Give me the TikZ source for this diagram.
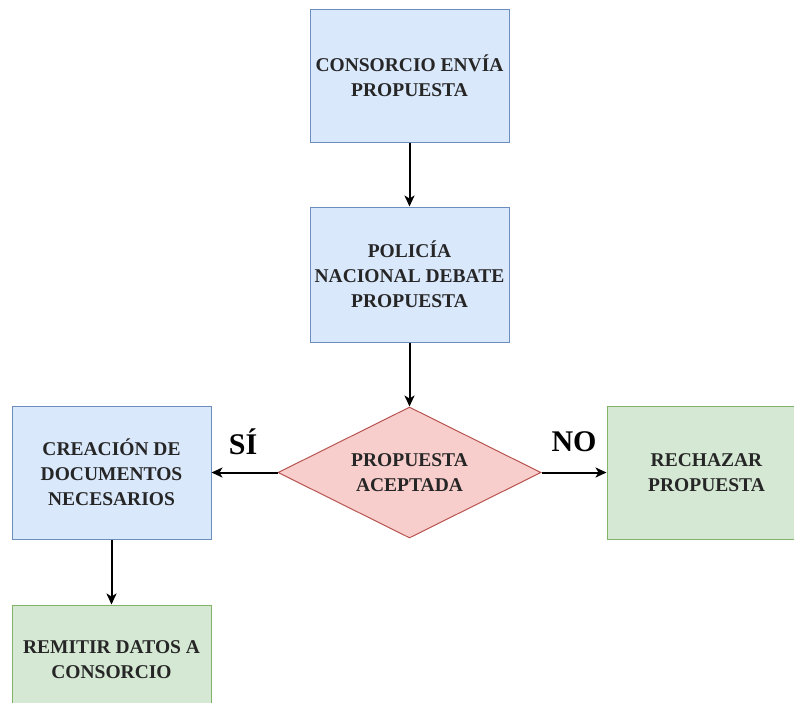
\documentclass[tikz,border=0pt]{standalone}
\usepackage{fontspec}
\setmainfont{Liberation Serif}
\usetikzlibrary{shapes.geometric,arrows.meta}

\definecolor{bluefill}{HTML}{DAE8FC}
\definecolor{blueline}{HTML}{6C8EBF}
\definecolor{greenfill}{HTML}{D5E8D4}
\definecolor{greenline}{HTML}{82B366}
\definecolor{redfill}{HTML}{F8CECC}
\definecolor{redline}{HTML}{B85450}
\definecolor{inktext}{HTML}{262626}

\tikzset{
  boxtext/.style={font=\bfseries\fontsize{19.5}{25}\selectfont, text=inktext, align=center},
  procbox/.style={boxtext, rectangle, draw=blueline, fill=bluefill, line width=1pt,
                  minimum width=199pt, minimum height=133pt, inner sep=0pt},
  endbox/.style={procbox, draw=greenline, fill=greenfill},
  decision/.style={boxtext, diamond, aspect=2, draw=redline, fill=redfill, line width=1pt,
                   minimum width=263pt, minimum height=131pt, inner sep=0pt},
  flow/.style={-{Stealth[length=11pt,width=10pt,inset=3pt]}, line width=2pt, black},
  branchlabel/.style={font=\bfseries\fontsize{30}{30}\selectfont, text=black}
}

\begin{document}
\begin{tikzpicture}[x=1pt,y=-1pt]
  \useasboundingbox (0,0) rectangle (794,702);
  \clip (0,0) rectangle (794,702);

  \node[procbox] (envia) at (409.5,75.5) {CONSORCIO ENVÍA\\PROPUESTA};
  \node[procbox, minimum height=135pt] (debate) at (409.5,274.5) {POLICÍA\\NACIONAL DEBATE\\PROPUESTA};
  \node[decision] (acepta) at (409.5,472.5) {PROPUESTA\\ACEPTADA};
  \node[procbox] (docs) at (111.5,472.5) {CREACIÓN DE\\DOCUMENTOS\\NECESARIOS};
  \node[endbox] (rechazo) at (706.5,472.5) {RECHAZAR\\PROPUESTA};
  \node[endbox, minimum height=110pt] (remitir) at (111.5,660) {REMITIR DATOS A\\CONSORCIO};

  \draw[flow] (envia) -- (debate);
  \draw[flow] (debate) -- (acepta);
  \draw[flow] (acepta.west) -- (docs.east);
  \draw[flow] (acepta.east) -- (rechazo.west);
  \draw[flow] (docs) -- (remitir);

  \node[branchlabel] (si) at (243,442) {SÍ};
  \node[branchlabel] (no) at (574,442) {NO};
\end{tikzpicture}
\end{document}
